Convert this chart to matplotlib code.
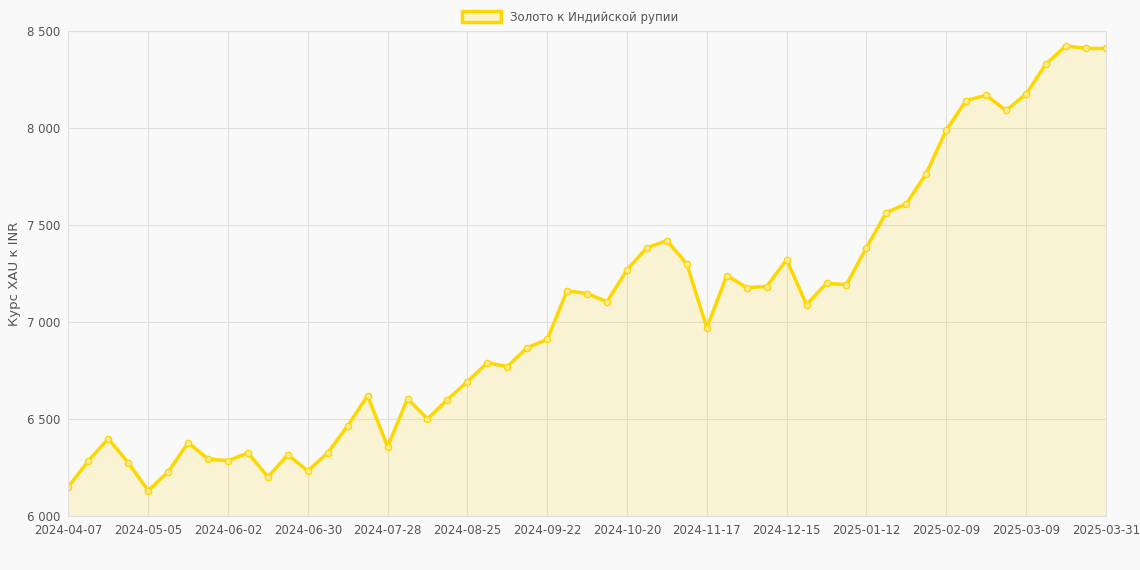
import matplotlib
matplotlib.use("Agg")
import matplotlib.pyplot as plt
from matplotlib.patches import Patch

# weekly XAU/INR rate, 2024-04-07 .. 2025-03-31
values = [6150, 6284, 6398, 6274, 6130, 6227, 6377, 6294, 6284, 6325,
          6201, 6315, 6232, 6325, 6465, 6620, 6357, 6605, 6500, 6600,
          6692, 6790, 6770, 6868, 6910, 7162, 7147, 7105, 7270, 7384,
          7420, 7300, 6970, 7240, 7178, 7183, 7322, 7090, 7200, 7193,
          7384, 7565, 7610, 7766, 7990, 8143, 8170, 8092, 8176, 8331,
          8425, 8412, 8412]
tick_labels = ["2024-04-07", "2024-05-05", "2024-06-02", "2024-06-30",
               "2024-07-28", "2024-08-25", "2024-09-22", "2024-10-20",
               "2024-11-17", "2024-12-15", "2025-01-12", "2025-02-09",
               "2025-03-09", "2025-03-31"]
y_ticks = [6000, 6500, 7000, 7500, 8000, 8500]

GOLD = "#FFD700"
BG = "#f9f9f9"
TXT = "#555555"

x = list(range(len(values)))
fig = plt.figure(figsize=(11.4, 5.7), dpi=100, facecolor=BG)
ax = fig.add_axes([0.06, 0.095, 0.91, 0.85], facecolor=BG)

ax.fill_between(x, values, 6000, color=GOLD, alpha=0.15, linewidth=0)
ax.plot(x, values, color=GOLD, lw=2.5, marker="o", ms=4.5,
        markerfacecolor="#fbeb9a", markeredgecolor=GOLD, markeredgewidth=1)

ax.set_xlim(0, len(values) - 1)
ax.set_ylim(6000, 8500)
ax.set_xticks(list(range(0, 49, 4)) + [52])
ax.set_xticklabels(tick_labels)
ax.set_yticks(y_ticks)
ax.set_yticklabels([f"{v:,}".replace(",", " ") for v in y_ticks])
ax.grid(True, color="#e0e0e0", lw=0.8)
ax.set_axisbelow(True)
for s in ax.spines.values():
    s.set_color("#e0e0e0")
ax.tick_params(colors=TXT, labelsize=8.5, length=0, pad=6)
ax.set_ylabel("Курс XAU к INR", color=TXT, fontsize=9.5)

fig.legend(handles=[Patch(facecolor="#fbf3c4", edgecolor=GOLD, lw=2.5,
                          label="Золото к Индийской рупии")],
           loc="upper center", bbox_to_anchor=(0.5, 1.0), frameon=False,
           fontsize=8.5, labelcolor=TXT, handlelength=3.3, handleheight=1.0)

fig.savefig("out.png", dpi=100, facecolor=BG)
